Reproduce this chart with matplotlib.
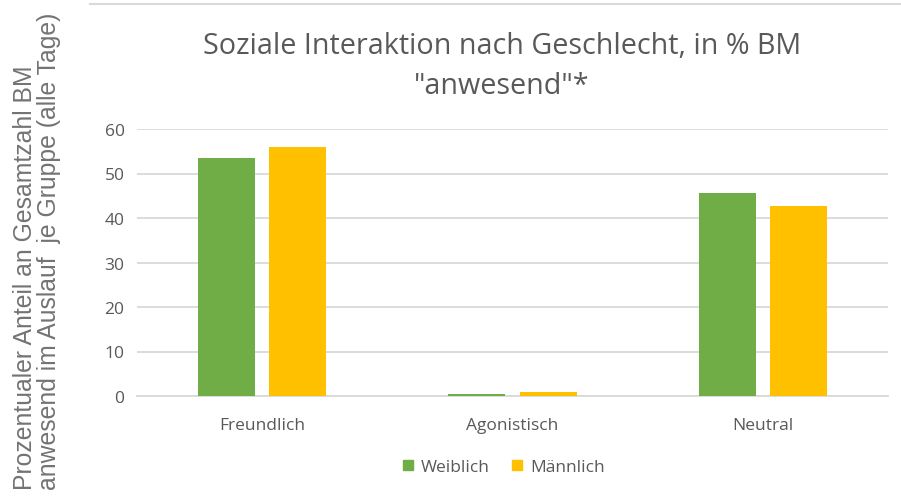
import numpy as np
import matplotlib.pyplot as plt
from matplotlib.lines import Line2D

categories = ["Freundlich", "Agonistisch", "Neutral"]
weiblich = [53.4, 0.5, 45.7]
maennlich = [55.9, 1.0, 42.6]
series_names = ["Weiblich", "Männlich"]
yticks = [0, 10, 20, 30, 40, 50, 60]

green = "#70ad47"
yellow = "#ffc000"
grey_txt = "#595959"

fig = plt.figure(figsize=(9.01, 5.02), dpi=100)
ax = fig.add_axes([137 / 901, 1 - 397 / 502, (888 - 137) / 901, (397 - 130) / 502])

x = np.arange(len(categories))
w = 0.228
off = 0.142
ax.bar(x - off, weiblich, w, color=green, label=series_names[0], zorder=3)
ax.bar(x + off, maennlich, w, color=yellow, label=series_names[1], zorder=3)

ax.set_xlim(-0.5, 2.5)
ax.set_ylim(0, 60)
ax.set_yticks(yticks)
ax.set_xticks(x)
ax.set_xticklabels(categories)
ax.grid(axis="y", color="#d9d9d9", linewidth=1.3, zorder=0)
for s in ["top", "right", "left"]:
    ax.spines[s].set_visible(False)
ax.spines["bottom"].set_color("#d9d9d9")
ax.spines["bottom"].set_linewidth(1.3)
ax.tick_params(length=0, colors=grey_txt, labelsize=12.5)
ax.tick_params(axis="x", pad=15)
ax.tick_params(axis="y", pad=9)
for lab in ax.get_xticklabels() + ax.get_yticklabels():
    lab.set_family("Open Sans")

fig.text(0.557, 0.868, 'Soziale Interaktion nach Geschlecht, in % BM\n"anwesend"*',
         ha="center", va="center", fontsize=20.7, color=grey_txt,
         family="Open Sans", linespacing=1.5)

fig.text(0.041, 1 - 490 / 502, "Prozentualer Anteil an Gesamtzahl BM\nanwesend im Auslauf  je Gruppe (alle Tage)",
         rotation=90, ha="center", va="bottom", multialignment="left",
         fontsize=17.8, color="#737373", family="Liberation Sans", linespacing=1.0)

handles = [Line2D([], [], marker="s", ls="", color=green, markersize=7.5),
           Line2D([], [], marker="s", ls="", color=yellow, markersize=7.5)]
fig.legend(handles, series_names, loc="center", bbox_to_anchor=(0.558, 0.067), ncol=2,
           frameon=False, handlelength=0.8, handletextpad=0.35, columnspacing=1.2,
           prop={"family": "Open Sans", "size": 12.5}, labelcolor=grey_txt)

fig.add_artist(Line2D([90 / 901, 1], [1 - 5 / 502, 1 - 5 / 502], color="#d9d9d9", lw=1.5))

fig.savefig("out.png", dpi=100, facecolor="white")
